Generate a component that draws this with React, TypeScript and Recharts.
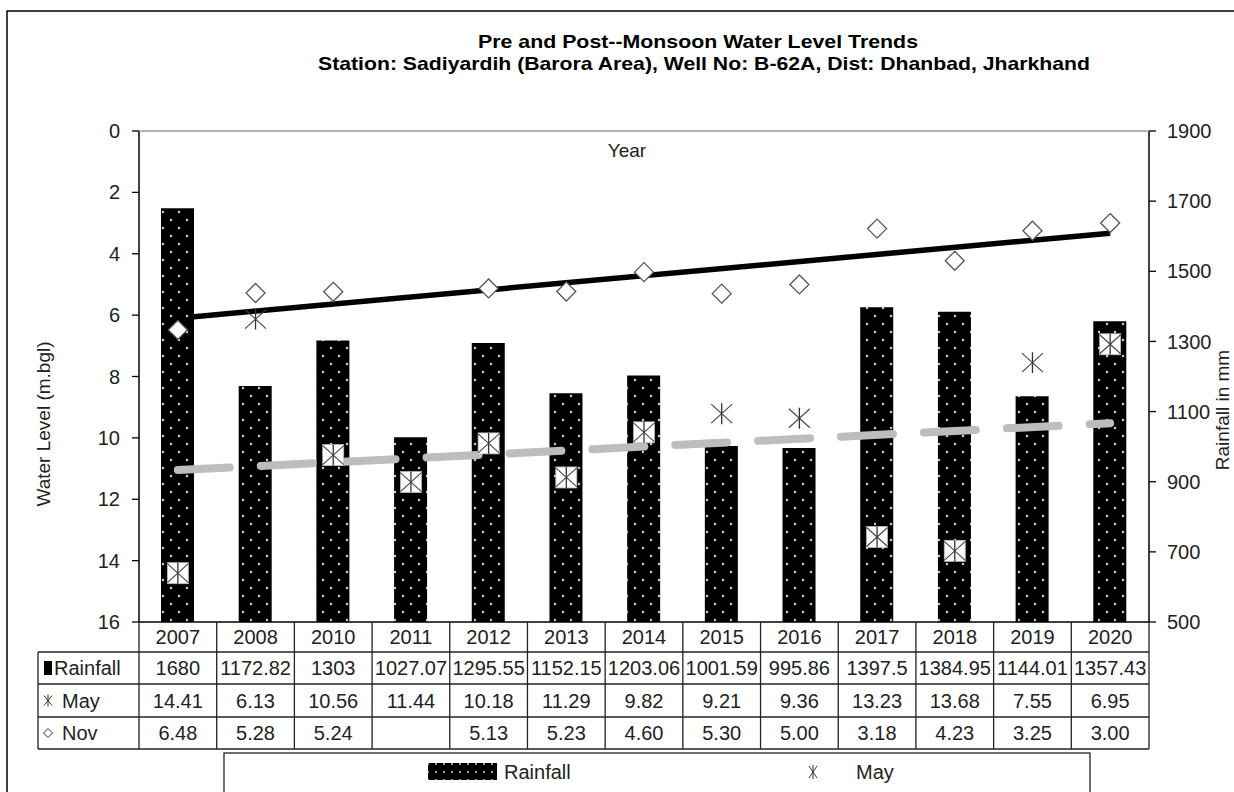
import React from "react";
import { Bar, ComposedChart, Line, XAxis, YAxis } from "recharts";

const YEARS = ["2007", "2008", "2010", "2011", "2012", "2013", "2014", "2015", "2016", "2017", "2018", "2019", "2020"];
const RAINFALL = [1680, 1172.82, 1303, 1027.07, 1295.55, 1152.15, 1203.06, 1001.59, 995.86, 1397.5, 1384.95, 1144.01, 1357.43];
const MAY = [14.41, 6.13, 10.56, 11.44, 10.18, 11.29, 9.82, 9.21, 9.36, 13.23, 13.68, 7.55, 6.95];
const NOV: (number | null)[] = [6.48, 5.28, 5.24, null, 5.13, 5.23, 4.6, 5.3, 5.0, 3.18, 4.23, 3.25, 3.0];
// linear trend lines, first and last year values
const MAY_TREND = [11.05, 9.52];
const NOV_TREND = [6.1, 3.33];
const LEVEL_TICKS = [0, 2, 4, 6, 8, 10, 12, 14, 16];
const RAIN_TICKS = [500, 700, 900, 1100, 1300, 1500, 1700, 1900];
const LEVEL_DOMAIN = [0, 16];
const RAIN_DOMAIN = [500, 1900];

const FONT = "'Liberation Sans', Arial, sans-serif";
const INK = "#222";

// plot box in page pixels
const PLOT_L = 139;
const PLOT_R = 1149;
const PLOT_T = 131;
const PLOT_B = 622;
const COL_W = (PLOT_R - PLOT_L) / YEARS.length;
const ROWS = [622, 652, 684, 717, 749];
const HEAD_L = 38;

const chartData = YEARS.map((year, i) => ({
  year,
  rainfall: RAINFALL[i],
  may: MAY[i],
  nov: NOV[i],
  mayTrend: i === 0 ? MAY_TREND[0] : i === YEARS.length - 1 ? MAY_TREND[1] : null,
  novTrend: i === 0 ? NOV_TREND[0] : i === YEARS.length - 1 ? NOV_TREND[1] : null,
}));

// does the May marker sit on top of the rainfall bar? (then Excel shows a white box)
function onBar(d: { may: number; rainfall: number }) {
  const levelFrac = (LEVEL_DOMAIN[1] - d.may) / (LEVEL_DOMAIN[1] - LEVEL_DOMAIN[0]);
  const rainFrac = (d.rainfall - RAIN_DOMAIN[0]) / (RAIN_DOMAIN[1] - RAIN_DOMAIN[0]);
  return levelFrac < rainFrac;
}

function MayDot(props: any) {
  const { cx, cy, index, payload } = props;
  if (cx == null || cy == null) return <g key={`m${index}`} />;
  const s = 10.5;
  return (
    <g key={`m${index}`}>
      {payload && onBar(payload) && (
        <rect x={cx - s} y={cy - s} width={2 * s} height={2 * s} fill="#fff" stroke="#bbb" strokeWidth={0.8} />
      )}
      <line x1={cx} y1={cy - s} x2={cx} y2={cy + s} stroke="#333" strokeWidth={1.3} />
      <line x1={cx - s} y1={cy - s + 1} x2={cx + s} y2={cy + s - 1} stroke="#444" strokeWidth={1.1} />
      <line x1={cx - s} y1={cy + s - 1} x2={cx + s} y2={cy - s + 1} stroke="#444" strokeWidth={1.1} />
    </g>
  );
}

function NovDot(props: any) {
  const { cx, cy, index } = props;
  if (cx == null || cy == null) return <g key={`n${index}`} />;
  const s = 9.5;
  return (
    <path
      key={`n${index}`}
      d={`M${cx},${cy - s}L${cx + s},${cy}L${cx},${cy + s}L${cx - s},${cy}Z`}
      fill="#fff"
      stroke="#555"
      strokeWidth={1.3}
    />
  );
}

const tickStyle = { fontSize: 20, fill: INK, fontFamily: FONT };

function fmt2(v: number | null) {
  return v == null ? "" : v.toFixed(2);
}

function DataTable() {
  const rows = [
    { label: "Rainfall", cells: RAINFALL.map((v) => String(v)) },
    { label: "May", cells: MAY.map(fmt2) },
    { label: "Nov", cells: NOV.map(fmt2) },
  ];
  const mayMid = (ROWS[2] + ROWS[3]) / 2;
  const novMid = (ROWS[3] + ROWS[4]) / 2;
  return (
    <g fontFamily={FONT} fontSize={20} fill={INK}>
      {/* horizontal rules */}
      <line x1={PLOT_L} y1={ROWS[0]} x2={PLOT_R} y2={ROWS[0]} stroke="#000" strokeWidth={1.5} />
      {ROWS.slice(1).map((y) => (
        <line key={`h${y}`} x1={HEAD_L} y1={y} x2={PLOT_R} y2={y} stroke={INK} strokeWidth={1.3} />
      ))}
      {/* vertical rules */}
      {YEARS.map((_, i) => (
        <line
          key={`v${i}`}
          x1={PLOT_L + i * COL_W}
          y1={ROWS[0]}
          x2={PLOT_L + i * COL_W}
          y2={ROWS[4]}
          stroke={INK}
          strokeWidth={1.3}
        />
      ))}
      <line x1={PLOT_R} y1={ROWS[0]} x2={PLOT_R} y2={ROWS[4]} stroke={INK} strokeWidth={1.3} />
      <line x1={HEAD_L} y1={ROWS[1]} x2={HEAD_L} y2={ROWS[4]} stroke={INK} strokeWidth={1.3} />
      {YEARS.map((y, i) => (
        <text key={`y${y}`} x={PLOT_L + (i + 0.5) * COL_W} y={(ROWS[0] + ROWS[1]) / 2 + 7} textAnchor="middle">
          {y}
        </text>
      ))}
      {rows.map((r, ri) => {
        const mid = (ROWS[ri + 1] + ROWS[ri + 2]) / 2;
        return (
          <g key={r.label}>
            {r.cells.map((c, i) => (
              <text key={`${r.label}${i}`} x={PLOT_L + (i + 0.5) * COL_W} y={mid + 7} textAnchor="middle">
                {c}
              </text>
            ))}
          </g>
        );
      })}
      {/* row headers */}
      <rect x={44} y={(ROWS[1] + ROWS[2]) / 2 - 7} width={8} height={14} fill="#000" />
      <text x={54} y={(ROWS[1] + ROWS[2]) / 2 + 7}>Rainfall</text>
      <g stroke="#333" strokeWidth={1}>
        <line x1={48} y1={mayMid - 6} x2={48} y2={mayMid + 6} />
        <line x1={44} y1={mayMid - 5} x2={52} y2={mayMid + 5} />
        <line x1={44} y1={mayMid + 5} x2={52} y2={mayMid - 5} />
      </g>
      <text x={62} y={mayMid + 7}>May</text>
      <path d={`M48,${novMid - 4.5}l4.5,4.5l-4.5,4.5l-4.5,-4.5z`} fill="#fff" stroke="#333" strokeWidth={1} />
      <text x={62} y={novMid + 7}>Nov</text>
    </g>
  );
}

function Overlay() {
  return (
    <svg width={1234} height={792} style={{ position: "absolute", left: 0, top: 0, pointerEvents: "none" }}>
      <defs>
        <pattern id="legendDots" width="8" height="8" patternUnits="userSpaceOnUse">
          <rect width="8" height="8" fill="#000" />
          <circle cx="4" cy="4" r="1" fill="#ccc" />
        </pattern>
      </defs>
      {/* chart frame */}
      <rect x={7} y={11} width={1240} height={800} fill="none" stroke="#000" strokeWidth={1.5} />
      {/* plot top border */}
      <line x1={PLOT_L} y1={PLOT_T} x2={PLOT_R} y2={PLOT_T} stroke="#999" strokeWidth={1.3} />
      <g fontFamily={FONT} fontWeight="bold" fontSize={19} fill="#000" textAnchor="middle">
        <text x={698} y={48} textLength={440} lengthAdjust="spacingAndGlyphs">
          Pre and Post--Monsoon Water Level Trends
        </text>
        <text x={704} y={70} textLength={772} lengthAdjust="spacingAndGlyphs">
          Station: Sadiyardih (Barora Area), Well No: B-62A, Dist: Dhanbad, Jharkhand
        </text>
      </g>
      <g fontFamily={FONT} fontSize={19} fill={INK} textAnchor="middle">
        <text x={627} y={157}>Year</text>
        <text x={0} y={0} transform="translate(50,424) rotate(-90)">
          Water Level (m.bgl)
        </text>
        <text x={0} y={0} transform="translate(1229,410) rotate(-90)">
          Rainfall in mm
        </text>
      </g>
      <DataTable />
      {/* legend */}
      <rect x={224} y={753} width={866} height={40} fill="#fff" stroke={INK} strokeWidth={1.3} />
      <rect x={428} y={763} width={69} height={17} fill="url(#legendDots)" />
      <text x={504} y={779} fontFamily={FONT} fontSize={20} fill={INK}>
        Rainfall
      </text>
      <g stroke="#333" strokeWidth={1}>
        <line x1={813} y1={765} x2={813} y2={779} />
        <line x1={809} y1={766} x2={817} y2={778} />
        <line x1={809} y1={778} x2={817} y2={766} />
      </g>
      <text x={856} y={779} fontFamily={FONT} fontSize={20} fill={INK}>
        May
      </text>
    </svg>
  );
}

export default function App() {
  return (
    <div style={{ position: "absolute", left: 0, top: 0, width: 1234, height: 792, background: "#fff" }}>
      <div style={{ position: "absolute", left: 0, top: 0 }}>
        <ComposedChart
          width={1234}
          height={792}
          data={chartData}
          margin={{ top: PLOT_T, right: 1234 - PLOT_R - 60, bottom: 792 - PLOT_B, left: PLOT_L - 60 }}
        >
          <defs>
            <pattern id="rainDots" width="16" height="16" patternUnits="userSpaceOnUse">
              <rect width="16" height="16" fill="#000" />
              <circle cx="3" cy="4" r="1.2" fill="#d0d0d0" />
              <circle cx="11" cy="12" r="1.2" fill="#d0d0d0" />
            </pattern>
          </defs>
          <XAxis dataKey="year" hide />
          <YAxis
            yAxisId="wl"
            width={60}
            domain={LEVEL_DOMAIN}
            ticks={LEVEL_TICKS}
            reversed
            interval={0}
            axisLine={{ stroke: "#000", strokeWidth: 1.5 }}
            tickLine={{ stroke: "#000", strokeWidth: 1.3 }}
            tickSize={7}
            tickMargin={12}
            tick={tickStyle}
          />
          <YAxis
            yAxisId="rain"
            orientation="right"
            width={60}
            domain={RAIN_DOMAIN}
            ticks={RAIN_TICKS}
            interval={0}
            axisLine={{ stroke: "#000", strokeWidth: 1.5 }}
            tickLine={{ stroke: "#000", strokeWidth: 1.3 }}
            tickSize={7}
            tickMargin={11}
            tick={tickStyle}
          />
          {/* Nov trend sits under the bars, as in the original */}
          <Line
            yAxisId="wl"
            dataKey="novTrend"
            stroke="#000"
            strokeWidth={5.5}
            connectNulls
            dot={false}
            activeDot={false}
            isAnimationActive={false}
            zIndex={250}
          />
          <Bar yAxisId="rain" dataKey="rainfall" fill="url(#rainDots)" barSize={33} isAnimationActive={false} />
          <Line yAxisId="wl" dataKey="may" stroke="none" dot={MayDot} activeDot={false} isAnimationActive={false} />
          <Line yAxisId="wl" dataKey="nov" stroke="none" dot={NovDot} activeDot={false} isAnimationActive={false} />
          <Line
            yAxisId="wl"
            dataKey="mayTrend"
            stroke="#bdbdbd"
            strokeWidth={8}
            strokeDasharray="52 31"
            strokeLinecap="round"
            connectNulls
            dot={false}
            activeDot={false}
            isAnimationActive={false}
          />
        </ComposedChart>
      </div>
      <Overlay />
    </div>
  );
}
